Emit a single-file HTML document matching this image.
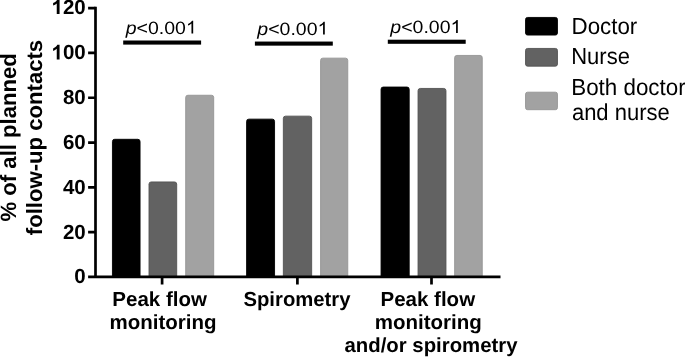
<!DOCTYPE html>
<html>
<head>
<meta charset="utf-8">
<style>
html,body{margin:0;padding:0;background:#fff;}
body{width:685px;height:357px;overflow:hidden;}
svg{display:block;will-change:transform;}
text{font-family:"Liberation Sans",sans-serif;fill:#000;text-rendering:geometricPrecision;}
.b{font-weight:bold;}
</style>
</head>
<body>
<svg width="685" height="357" viewBox="0 0 685 357">
<rect width="685" height="357" fill="#fff"/>
<!-- bars -->
<g>
<path d="M112.45 277V141.50a2.2 2.2 0 0 1 2.2-2.2H137.85a2.2 2.2 0 0 1 2.2 2.2V277z" fill="#000" stroke="#000" stroke-width="0.9"/>
<path d="M149.00 277V184.15a2.2 2.2 0 0 1 2.2-2.2H174.50a2.2 2.2 0 0 1 2.2 2.2V277z" fill="#626262" stroke="#525252" stroke-width="0.9"/>
<path d="M185.70 277V97.45a2.2 2.2 0 0 1 2.2-2.2H211.50a2.2 2.2 0 0 1 2.2 2.2V277z" fill="#a2a2a2" stroke="#949494" stroke-width="0.9"/>
<path d="M246.60 277V121.35a2.2 2.2 0 0 1 2.2-2.2H272.35a2.2 2.2 0 0 1 2.2 2.2V277z" fill="#000" stroke="#000" stroke-width="0.9"/>
<path d="M283.35 277V118.35a2.2 2.2 0 0 1 2.2-2.2H309.45a2.2 2.2 0 0 1 2.2 2.2V277z" fill="#626262" stroke="#525252" stroke-width="0.9"/>
<path d="M320.60 277V60.35a2.2 2.2 0 0 1 2.2-2.2H345.55a2.2 2.2 0 0 1 2.2 2.2V277z" fill="#a2a2a2" stroke="#949494" stroke-width="0.9"/>
<path d="M381.05 277V89.25a2.2 2.2 0 0 1 2.2-2.2H407.00a2.2 2.2 0 0 1 2.2 2.2V277z" fill="#000" stroke="#000" stroke-width="0.9"/>
<path d="M418.05 277V90.65a2.2 2.2 0 0 1 2.2-2.2H443.75a2.2 2.2 0 0 1 2.2 2.2V277z" fill="#626262" stroke="#525252" stroke-width="0.9"/>
<path d="M454.65 277V57.65a2.2 2.2 0 0 1 2.2-2.2H480.05a2.2 2.2 0 0 1 2.2 2.2V277z" fill="#a2a2a2" stroke="#949494" stroke-width="0.9"/>
</g>
<!-- axes -->
<g stroke="#000" stroke-width="2.7" fill="none">
<path d="M95.5 6.7V278"/>
<path d="M88.1 276.85H500.5"/>
<path d="M88.1 8.05H95.5M88.1 52.95H95.5M88.1 97.75H95.5M88.1 142.55H95.5M88.1 187.35H95.5M88.1 232.15H95.5"/>
<path d="M162.1 277V284.4M297.4 277V284.4M431.5 277V284.4"/>
</g>
<!-- sig lines -->
<g fill="#000">
<rect x="123.2" y="40.5" width="77.9" height="4.1"/>
<rect x="254.9" y="41.55" width="77.9" height="4.1"/>
<rect x="387.8" y="39.7" width="77.9" height="4.1"/>
</g>
<!-- p labels -->
<g font-size="17.5">
<g transform="translate(125.7 33.55) scale(1.115 1.02)"><text><tspan font-style="italic">p</tspan>&lt;0.00</text><path transform="translate(54.005 0) scale(0.008545 -0.008545)" d="M763 0H583V1147Q518 1085 412.5 1023T223 930V1104Q373 1174.5 485.5 1275T644 1472H763Z"/></g>
<g transform="translate(257.3 34.6) scale(1.115 1.02)"><text><tspan font-style="italic">p</tspan>&lt;0.00</text><path transform="translate(54.005 0) scale(0.008545 -0.008545)" d="M763 0H583V1147Q518 1085 412.5 1023T223 930V1104Q373 1174.5 485.5 1275T644 1472H763Z"/></g>
<g transform="translate(390.3 32.95) scale(1.115 1.02)"><text><tspan font-style="italic">p</tspan>&lt;0.00</text><path transform="translate(54.005 0) scale(0.008545 -0.008545)" d="M763 0H583V1147Q518 1085 412.5 1023T223 930V1104Q373 1174.5 485.5 1275T644 1472H763Z"/></g>
</g>
<!-- tick labels -->
<g class="b" font-size="20.5" text-anchor="end">
<g transform="translate(85.7 14.05)"><text>20</text><path transform="translate(-34.203 0) scale(0.010010 -0.010010)" d="M806 0H525V1059Q371 915 162 846V1101Q272 1137 401 1237.5T578 1472H806Z"/></g>
<g transform="translate(85.7 59.4)"><text>00</text><path transform="translate(-34.203 0) scale(0.010010 -0.010010)" d="M806 0H525V1059Q371 915 162 846V1101Q272 1137 401 1237.5T578 1472H806Z"/></g>
<text transform="translate(85.7 104.2)">80</text>
<text transform="translate(85.7 149)">60</text>
<text transform="translate(85.7 193.8)">40</text>
<text transform="translate(85.7 238.6)">20</text>
<text transform="translate(85.7 283.3)">0</text>
</g>
<!-- y title -->
<g class="b" font-size="22.12" text-anchor="middle">
<text transform="translate(16.35 137.3) rotate(-90)">% of all planned</text>
<text transform="translate(41.75 137.5) rotate(-90)">follow-up contacts</text>
</g>
<!-- x labels -->
<g class="b" font-size="20.5" text-anchor="middle">
<text x="159.6" y="305.9">Peak flow</text>
<text x="163" y="328.5">monitoring</text>
<text x="297" y="305.9" font-size="20.3">Spirometry</text>
<text x="427.8" y="305.9">Peak flow</text>
<text x="428.3" y="328.8">monitoring</text>
<text x="431" y="352.1" font-size="20.35">and/or spirometry</text>
</g>
<!-- legend -->
<g stroke-width="0.9">
<rect x="525.55" y="17.45" width="31.9" height="17.6" rx="2" fill="#000" stroke="#000"/>
<rect x="525.55" y="48.45" width="31.9" height="17.7" rx="2" fill="#626262" stroke="#525252"/>
<rect x="525.55" y="92.2" width="31.9" height="17.5" rx="2" fill="#a2a2a2" stroke="#949494"/>
</g>
<g font-size="22">
<text transform="translate(571.5 33.8) scale(1.015 1.05)">Doctor</text>
<text transform="translate(571.2 64.35) scale(1 1.05)">Nurse</text>
<text transform="translate(571.2 94.6) scale(1.0175 1.05)">Both doctor</text>
<text transform="translate(571.9 120.4) scale(1 1.05)">and nurse</text>
</g>
</svg>
</body>
</html>
